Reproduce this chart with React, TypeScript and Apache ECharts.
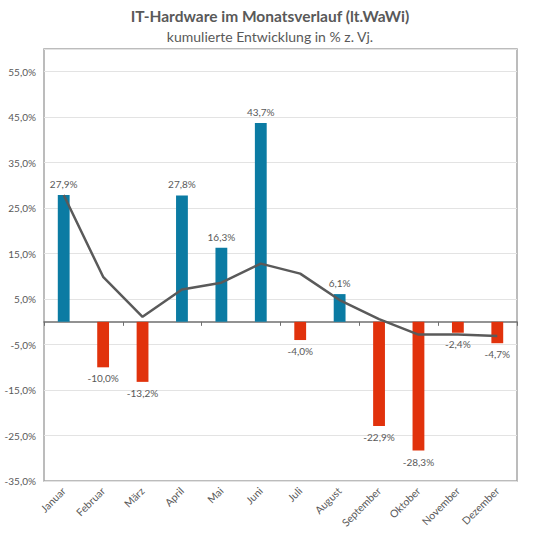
import React, { useEffect, useRef } from "react";
import * as echarts from "echarts";

const months = ["Januar", "Februar", "März", "April", "Mai", "Juni", "Juli", "August", "September", "Oktober", "November", "Dezember"];
const monthly = [27.9, -10.0, -13.2, 27.8, 16.3, 43.7, -4.0, 6.1, -22.9, -28.3, -2.4, -4.7];
const cumulative = [27.9, 9.9, 1.1, 7.1, 8.6, 12.8, 10.6, 4.8, 0.6, -2.8, -2.8, -3.1];

const BLUE = "#0b7ba3";
const RED = "#e1320c";
const GRAY = "#595959";
const FONT = "Lato, 'Open Sans', sans-serif";

const fmt = (v: number) => v.toFixed(1).replace(".", ",") + "%";

export default function App() {
  const ref = useRef<HTMLDivElement>(null);
  useEffect(() => {
    if (!ref.current) return;
    const chart = echarts.init(ref.current, null, { renderer: "svg" });
    chart.setOption({
      animation: false,
      textStyle: { fontFamily: FONT },
      title: {
        text: "IT-Hardware im Monatsverlauf (lt.WaWi)",
        subtext: "kumulierte Entwicklung in % z. Vj.",
        left: "center",
        top: 3,
        itemGap: 5,
        textStyle: { fontFamily: FONT, fontSize: 15.5, fontWeight: "bold", color: GRAY },
        subtextStyle: { fontFamily: FONT, fontSize: 14, color: GRAY },
      },
      grid: {
        left: 44,
        right: 23,
        top: 49,
        bottom: 59,
        show: true,
        borderColor: "#a6a6a6",
        borderWidth: 1.5,
        backgroundColor: "transparent",
      },
      xAxis: [
        {
          type: "category",
          data: months,
          axisLine: { onZero: true, lineStyle: { color: "#6f6f6f", width: 1.5 } },
          axisTick: { show: true, length: 4, lineStyle: { color: "#6f6f6f" } },
          axisLabel: { show: false },
        },
        {
          type: "category",
          data: months,
          position: "bottom",
          axisLine: { show: false, onZero: false },
          axisTick: { show: false },
          axisLabel: { rotate: 45, fontSize: 10.5, color: GRAY, fontFamily: FONT, margin: 8 },
        },
      ],
      yAxis: {
        type: "value",
        min: -35,
        max: 60,
        interval: 10,
        axisLine: { show: false },
        axisTick: { show: false },
        splitLine: { lineStyle: { color: "#e3e3e3", width: 1 } },
        axisLabel: {
          fontSize: 10,
          color: GRAY,
          fontFamily: FONT,
          showMaxLabel: false,
          margin: 8,
          formatter: (v: number) => (v > 55 ? "" : fmt(v)),
        },
      },
      series: [
        {
          type: "bar",
          xAxisIndex: 0,
          barWidth: "30%",
          data: monthly.map((v) => ({
            value: v,
            itemStyle: { color: v >= 0 ? BLUE : RED },
            label: { position: v >= 0 ? "top" : "bottom" },
          })),
          label: {
            show: true,
            fontSize: 10,
            color: GRAY,
            fontFamily: FONT,
            distance: 6,
            formatter: (p: any) => fmt(p.value),
          },
        },
        {
          type: "line",
          xAxisIndex: 0,
          data: cumulative,
          symbol: "none",
          lineStyle: { color: "#5a5a5a", width: 2.5 },
          z: 5,
        },
      ],
    });
    return () => chart.dispose();
  }, []);
  return <div ref={ref} style={{ position: "fixed", left: 0, top: 0, width: 540, height: 540, background: "#fff" }} />;
}
